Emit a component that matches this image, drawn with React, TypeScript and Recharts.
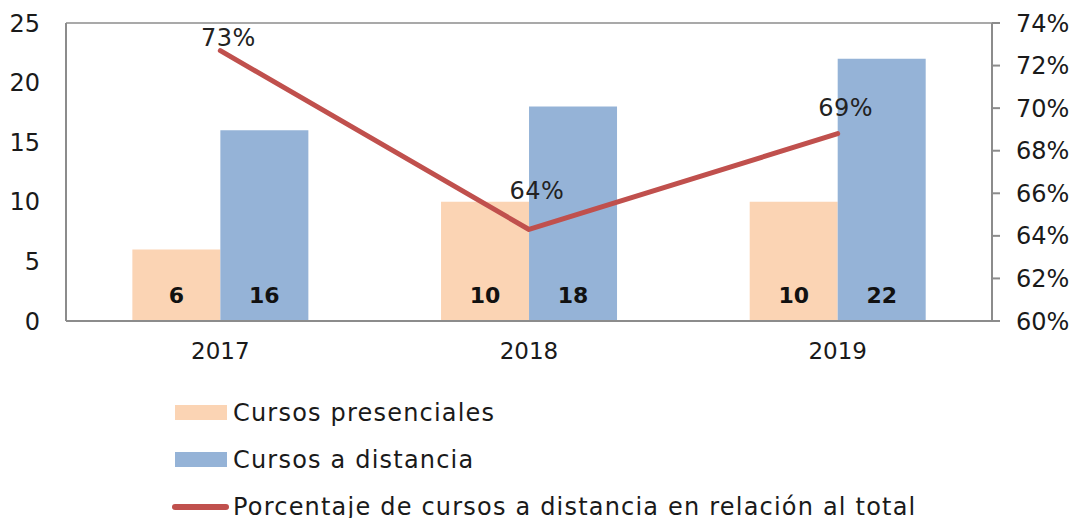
import React from 'react';
import { ComposedChart, Bar, Line, XAxis, YAxis, CartesianGrid, LabelList } from 'recharts';

const years = ['2017', '2018', '2019'];
const presenciales = [6, 10, 10];
const distancia = [16, 18, 22];
const porcentaje = [72.7, 64.3, 68.8];
const leftTicks = [0, 5, 10, 15, 20, 25];
const rightTicks = [60, 62, 64, 66, 68, 70, 72, 74];
const seriesNames = [
  'Cursos presenciales',
  'Cursos a distancia',
  'Porcentaje de cursos a distancia en relación al total',
];

const FONT = '"DejaVu Sans", sans-serif';
const GREY = '#8c8c8c';
const PEACH = '#fbd4b4';
const BLUE = '#95b3d7';
const RED = '#c0504d';

// how far each % label sits above its point (labels were nudged by hand in the original)
const pctLift = [5, 30, 18];

const data = years.map((year, i) => ({
  year,
  presenciales: presenciales[i],
  distancia: distancia[i],
  porcentaje: porcentaje[i],
}));

// bold value near the bottom of each bar
const BarValue = (props: any) => {
  const { x, y, width, height, value } = props;
  return (
    <text
      x={x + width / 2}
      y={y + height - 18}
      textAnchor="middle"
      fontFamily={FONT}
      fontSize={22}
      fontWeight="bold"
      fill="#111"
    >
      {value}
    </text>
  );
};

const PctValue = (props: any) => {
  const { x, y, value, index } = props;
  return (
    <text
      x={x + 8}
      y={y - pctLift[index]}
      textAnchor="middle"
      fontFamily={FONT}
      fontSize={24}
      letterSpacing={0.5}
      fill="#222"
    >
      {Math.round(value)}%
    </text>
  );
};

const legendColors = [PEACH, BLUE, RED];

const App = () => {
  return (
    <div style={{ position: 'absolute', left: 0, top: 0, width: 1075, height: 518, background: '#fff' }}>
      <ComposedChart
        width={1075}
        height={370}
        data={data}
        margin={{ top: 23, right: 0, left: 0, bottom: 0 }}
        barCategoryGap="21.5%"
        barGap={0}
      >
        <CartesianGrid vertical={false} stroke={GREY} strokeWidth={1.5} />
        <XAxis
          dataKey="year"
          height={49}
          axisLine={{ stroke: GREY, strokeWidth: 2 }}
          tickLine={false}
          tickSize={8}
          tickMargin={14}
          tick={{ fill: '#1a1a1a', fontFamily: FONT, fontSize: 23 }}
        />
        <YAxis
          yAxisId="left"
          width={66}
          domain={[0, 25]}
          ticks={leftTicks}
          axisLine={{ stroke: GREY, strokeWidth: 2 }}
          tickLine={false}
          tickSize={8}
          tickMargin={18}
          tick={{ fill: '#1a1a1a', fontFamily: FONT, fontSize: 24 }}
        />
        <YAxis
          yAxisId="right"
          orientation="right"
          width={83}
          domain={[60, 74]}
          ticks={rightTicks}
          tickFormatter={(v: number) => `${v}%`}
          axisLine={{ stroke: GREY, strokeWidth: 2 }}
          tickLine={{ stroke: GREY, strokeWidth: 2 }}
          tickSize={8}
          tickMargin={16}
          tick={{ fill: '#1a1a1a', fontFamily: FONT, fontSize: 24, textAnchor: 'start' }}
        />
        <Bar yAxisId="left" dataKey="presenciales" name={seriesNames[0]} fill={PEACH} isAnimationActive={false}>
          <LabelList dataKey="presenciales" content={BarValue} />
        </Bar>
        <Bar yAxisId="left" dataKey="distancia" name={seriesNames[1]} fill={BLUE} isAnimationActive={false}>
          <LabelList dataKey="distancia" content={BarValue} />
        </Bar>
        <Line
          yAxisId="right"
          dataKey="porcentaje"
          name={seriesNames[2]}
          stroke={RED}
          strokeWidth={5}
          strokeLinecap="round"
          strokeLinejoin="round"
          dot={false}
          activeDot={false}
          isAnimationActive={false}
        >
          <LabelList dataKey="porcentaje" content={PctValue} />
        </Line>
      </ComposedChart>

      {/* legend, stacked below the plot */}
      <div
        style={{
          position: 'absolute',
          left: 172,
          top: 389,
          fontFamily: FONT,
          fontSize: 24,
          letterSpacing: 1.2,
          color: '#1a1a1a',
        }}
      >
        {seriesNames.map((name, i) => (
          <div key={name} style={{ display: 'flex', alignItems: 'center', height: 47, whiteSpace: 'nowrap' }}>
            {i < 2 ? (
              <span style={{ display: 'inline-block', width: 52, height: 15, marginLeft: 3, marginRight: 6, background: legendColors[i] }} />
            ) : (
              <span style={{ display: 'inline-block', width: 57, height: 6, borderRadius: 3, marginRight: 4, background: legendColors[i] }} />
            )}
            <span>{name}</span>
          </div>
        ))}
      </div>
    </div>
  );
};

export default App;
